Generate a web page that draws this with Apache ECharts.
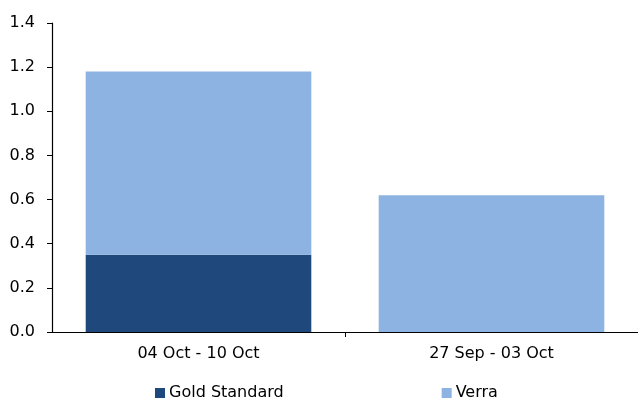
<!DOCTYPE html>
<html>
<head>
<meta charset="utf-8">
<script src="https://cdn.jsdelivr.net/npm/echarts@6/dist/echarts.min.js"></script>
<style>
  html, body { margin: 0; padding: 0; background: #fff; }
  #chart { width: 638px; height: 401px; }
</style>
</head>
<body>
<div id="chart"></div>
<script>
// Weekly volumes by registry
const categories = ['04 Oct - 10 Oct', '27 Sep - 03 Oct'];
const goldStandard = [0.35, 0];
const verra = [0.83, 0.62];
const yTicks = { min: 0, max: 1.4, interval: 0.2 };

const font = 'DejaVu Sans';
const chart = echarts.init(document.getElementById('chart'));
chart.setOption({
  animation: false,
  textStyle: { fontFamily: font },
  grid: { left: 52, right: 0, top: 23, bottom: 69, containLabel: false },
  legend: {
    top: 385,
    left: 155,
    padding: 0,
    itemWidth: 10,
    itemHeight: 10,
    itemGap: 158,
    icon: 'rect',
    textStyle: { fontFamily: font, fontSize: 16, color: '#000', padding: [0, 0, 0, -1] },
    data: ['Gold Standard', 'Verra']
  },
  xAxis: [
    {
      type: 'category',
      data: categories,
      axisLine: { lineStyle: { color: '#000', width: 1.2 } },
      axisTick: { show: false },
      axisLabel: { color: '#000', fontSize: 16, margin: 14, fontFamily: font }
    },
    {
      // helper axis: a single divider tick between the two weeks
      type: 'value',
      position: 'bottom',
      min: 0,
      max: categories.length,
      axisLine: { show: false },
      axisLabel: { show: false },
      splitLine: { show: false },
      axisTick: {
        show: true, length: 5, lineStyle: { color: '#000' },
        customValues: [1]
      }
    }
  ],
  yAxis: {
    type: 'value',
    min: yTicks.min,
    max: yTicks.max,
    interval: yTicks.interval,
    axisLine: { show: true, lineStyle: { color: '#000', width: 1.2 } },
    axisTick: { show: true, length: 5, lineStyle: { color: '#000' } },
    splitLine: { show: false },
    axisLabel: {
      color: '#000', fontSize: 16, margin: 17, fontFamily: font,
      formatter: v => v.toFixed(1)
    }
  },
  series: [
    {
      name: 'Gold Standard', type: 'bar', stack: 'total',
      data: goldStandard, barCategoryGap: '23%',
      itemStyle: { color: '#1F497D' }
    },
    {
      name: 'Verra', type: 'bar', stack: 'total',
      data: verra, barCategoryGap: '23%',
      itemStyle: { color: '#8DB3E2' }
    }
  ]
});
</script>
</body>
</html>
